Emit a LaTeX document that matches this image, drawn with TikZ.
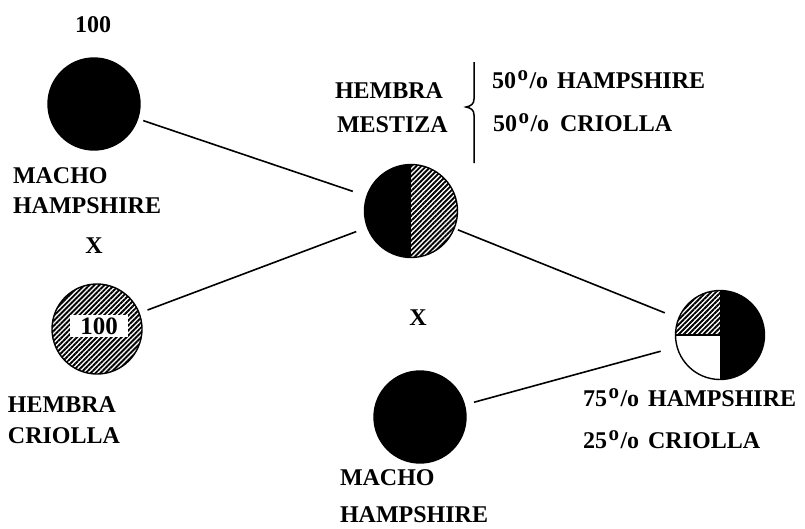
\documentclass[tikz,border=0pt]{standalone}
\usepackage{fontspec}
\setmainfont{Liberation Serif}
\usetikzlibrary{patterns.meta}
\newcommand{\pctsign}{\kern1.5pt\raisebox{8pt}{\fontsize{21}{21}\selectfont o}\kern1.5pt/o}
\begin{document}
\begin{tikzpicture}[x=1pt,y=-1pt,
  lbl/.style={inner sep=0pt, outer sep=0pt, anchor=base west, font=\fontsize{24}{28}\selectfont\bfseries},
  lblc/.style={lbl, anchor=base},
  pig/.style={circle, draw=black, line width=1.4pt, inner sep=0pt, outer sep=0pt},
  hatch/.style={pattern={Lines[angle=45,distance=3.5pt,line width=1.9pt]}},
  link/.style={line width=1.6pt}]
\useasboundingbox (0,0) rectangle (805,528);
% circles
\node[pig, fill=black, minimum size=92pt] (A) at (94,104) {};
\node[pig, hatch, minimum size=90pt] (B) at (97,329) {};
\node[fill=white, inner sep=0pt, minimum width=58pt, minimum height=22pt,
      font=\fontsize{25}{25}\selectfont\bfseries] (B100) at (99,326) {100};
\node[pig, minimum size=93pt, path picture={
    \fill[black] (path picture bounding box.south west) rectangle (path picture bounding box.north);
    \fill[hatch] (path picture bounding box.south) rectangle (path picture bounding box.north east);
  }] (C) at (411,211) {};
\node[pig, fill=black, minimum size=92pt] (D) at (420,417) {};
\node[pig, minimum size=89pt, path picture={
    \fill[black] (path picture bounding box.south) rectangle (path picture bounding box.north east);
    \fill[hatch] (path picture bounding box.west) rectangle (path picture bounding box.north);
    \draw[line width=1.4pt] (path picture bounding box.west) -- (path picture bounding box.center);
  }] (E) at (720,335) {};
% connectors
\draw[link, shorten <=6pt, shorten >=15pt] (A) -- (C);
\draw[link, shorten <=9pt, shorten >=12pt] (B) -- (C);
\draw[link, shorten <=4pt, shorten >=15pt] (C) -- (E);
\draw[link, shorten <=10pt, shorten >=17pt] (D) -- (E);
% brace bar
\draw[line width=1.5pt] (474,62) -- (474,99) .. controls (474,104) and (471,106) .. (466,107)
  .. controls (471,108) and (474,110) .. (474,115) -- (474,163);
% labels
\node[lblc] (t100) at (93,32) {100};
\node[lbl] (t1) at (13,183) {MACHO};
\node[lbl] (t2) at (13,213) {HAMPSHIRE};
\node[lblc] (x1) at (94,253) {X};
\node[lbl] (t3) at (8,412) {HEMBRA};
\node[lbl] (t4) at (8,443) {CRIOLLA};
\node[lbl] (t5) at (335,98) {HEMBRA};
\node[lbl] (t6) at (337,132) {MESTIZA};
\node[lbl] (t7) at (492,88) {50\pctsign\hspace{9pt}HAMPSHIRE};
\node[lbl] (t8) at (493,131) {50\pctsign\hspace{11pt}CRIOLLA};
\node[lblc] (x2) at (418,325) {X};
\node[lbl] (t9) at (340,485) {MACHO};
\node[lbl] (t10) at (340,522) {HAMPSHIRE};
\node[lbl] (t11) at (583,406) {75\pctsign\hspace{9pt}HAMPSHIRE};
\node[lbl] (t12) at (583,448) {25\pctsign\hspace{9pt}CRIOLLA};
\end{tikzpicture}
\end{document}
